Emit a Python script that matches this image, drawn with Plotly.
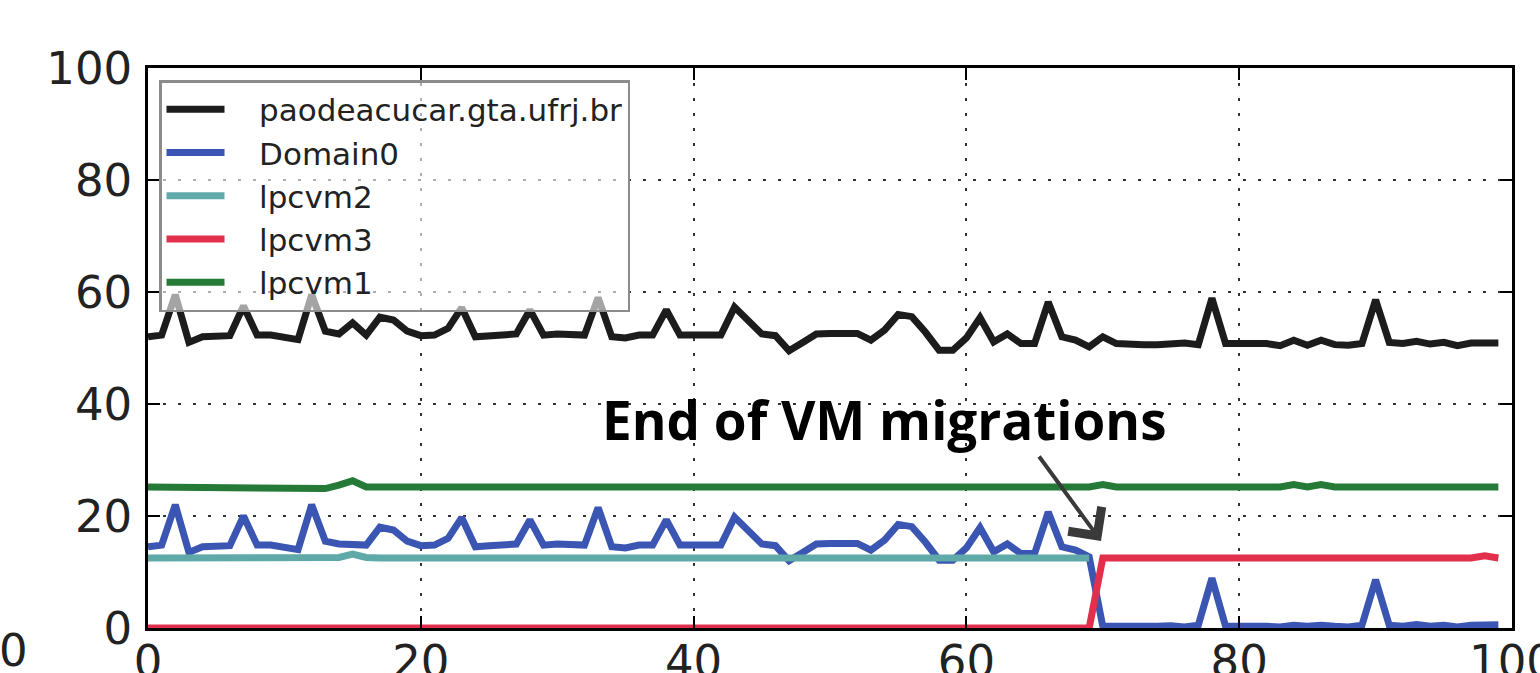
import plotly.graph_objects as go

x_vals = list(range(100))

host = [52, 52.3, 59.5, 51, 52, 52, 52.2, 57.5, 52.3, 52.3,
        52, 51.5, 59.5, 53, 52.5, 54.5, 52.3, 55.5, 55, 53,
        52.2, 52.3, 53.5, 57.2, 52, 52.2, 52.3, 52.5, 56.8, 52.3,
        52.5, 52.5, 52.3, 59, 52, 51.8, 52.3, 52.3, 56.8, 52.3,
        52.3, 52.3, 52.3, 57.3, 55, 52.5, 52.2, 49.5, 51, 52.5,
        52.6, 52.6, 52.6, 51.4, 53.2, 56, 55.6, 52.8, 49.6, 49.6,
        51.8, 55.4, 51.1, 52.5, 50.8, 50.8, 58.2, 52, 51.4, 50.2,
        52, 50.8, 50.6, 50.6, 50.6, 50.7, 50.9, 50.6, 58.9, 50.8,
        50.9, 50.8, 50.8, 50.4, 51.4, 50.5, 51.4, 50.6, 50.5, 50.8,
        58.6, 51, 50.8, 51.2, 50.7, 51, 50.4, 50.9, 50.9, 50.9]

domain0 = [14.5, 14.8, 22, 13.5, 14.5, 14.5, 14.7, 20, 14.8, 14.8,
           14.5, 14, 22, 15.5, 15, 14.8, 14.8, 18, 17.5, 15.5,
           14.7, 14.8, 16, 19.7, 14.5, 14.7, 14.8, 15, 19.3, 14.8,
           15, 15, 14.8, 21.5, 14.5, 14.3, 14.8, 14.8, 19.3, 14.8,
           14.8, 14.8, 14.8, 19.8, 17.5, 15, 14.7, 12, 13.5, 15,
           15.1, 15.1, 15.1, 13.9, 15.7, 18.5, 18.1, 15.3, 12.1, 12.1,
           14.3, 17.9, 13.6, 15, 13.3, 13.3, 20.7, 14.5, 13.9, 12.7,
           0.3, 0.3, 0.2, 0.2, 0.3, 0.4, 0.2, 0.5, 8.9, 0.3,
           0.4, 0.3, 0.3, 0.2, 0.5, 0.3, 0.5, 0.3, 0.2, 0.5,
           8.6, 0.5, 0.3, 0.6, 0.3, 0.5, 0.2, 0.5, 0.4, 0.6]

lpcvm2 = [12.5] * 13 + [12.5, 12.6, 13.2, 12.6] + [12.5] * 53 + [None] * 30

lpcvm3 = [0] * 70 + [12.5] * 28 + [12.9, 12.5]

lpcvm1 = ([25.2] * 12 + [25.0, 24.9, 25.5, 26.3, 25.2] + [25.2] * 53
          + [25.6, 25.2] + [25.2] * 12 + [25.6, 25.2, 25.6] + [25.2] * 13)

series_names = ["paodeacucar.gta.ufrj.br", "Domain0", "lpcvm2", "lpcvm3", "lpcvm1"]
series_values = [host, domain0, lpcvm2, lpcvm3, lpcvm1]
series_colors = ["#1c1c1c", "#3a55b2", "#5fa9a9", "#e2304c", "#247a36"]

x_ticks = [0, 20, 40, 60, 80, 100]
y_ticks = [0, 20, 40, 60, 80, 100]

NBSP = "\u00a0"

fig = go.Figure()
for name, vals, col in zip(series_names, series_values, series_colors):
    fig.add_trace(go.Scatter(x=x_vals, y=vals, name=NBSP * 3 + name, mode="lines",
                             line=dict(color=col, width=7)))

axis_common = dict(
    showline=True, linecolor="black", linewidth=2.5, mirror="ticks",
    ticks="inside", ticklen=12, tickwidth=1.5, tickcolor="black",
    showgrid=True, gridcolor="#333333", gridwidth=1.5, griddash="3px,12px",
    zeroline=False, ticklabeloverflow="allow",
    tickfont=dict(family="DejaVu Sans", size=45, color="#222222"),
)

fig.update_xaxes(range=[0, 100], tickvals=x_ticks, ticktext=[str(v) for v in x_ticks],
                 ticklabelstandoff=-8, **axis_common)
fig.update_yaxes(range=[0, 100], tickvals=y_ticks, ticktext=[str(v) for v in y_ticks],
                 ticklabelstandoff=4, **axis_common)

# arrow pointing at the end of the migrations
fig.add_annotation(
    x=(1101 - 148) / 13.64, y=(628 - 541) / 5.6, xref="x", yref="y",
    ax=(1038 - 148) / 13.64, ay=(628 - 455) / 5.6, axref="x", ayref="y",
    text="", showarrow=True, arrowhead=4, arrowsize=2.0, arrowwidth=4,
    arrowcolor="#3a3a3a",
)
fig.add_annotation(
    x=(884 - 148) / 13.64, y=(628 - 419.5) / 5.6, xref="x", yref="y",
    text="<b>End of VM migrations</b>", showarrow=False,
    font=dict(family="Open Sans", size=53, color="black"),
)
fig.add_annotation(
    x=(13 - 148) / 1364, y=(628 - 650) / 560, xref="paper", yref="paper",
    text="0", showarrow=False, xanchor="center", yanchor="middle",
    font=dict(family="DejaVu Sans", size=45, color="#222222"),
)

fig.update_layout(
    width=1540, height=673,
    margin=dict(l=148, r=28, t=68, b=45, autoexpand=False),
    paper_bgcolor="white", plot_bgcolor="white",
    showlegend=True,
    legend=dict(
        x=(159 - 148) / 1364, y=1 - (80 - 68) / 560, xanchor="left", yanchor="top",
        bgcolor="rgba(255,255,255,0.6)", bordercolor="#8c8c8c", borderwidth=2.5,
        font=dict(family="DejaVu Sans", size=31, color="#222222"),
        tracegroupgap=0, itemwidth=58,
    ),
)

fig.write_html(
    "out.html",
    config={"displayModeBar": False},
    post_script="document.body.style.margin='0px';document.body.style.overflow='hidden';",
)
